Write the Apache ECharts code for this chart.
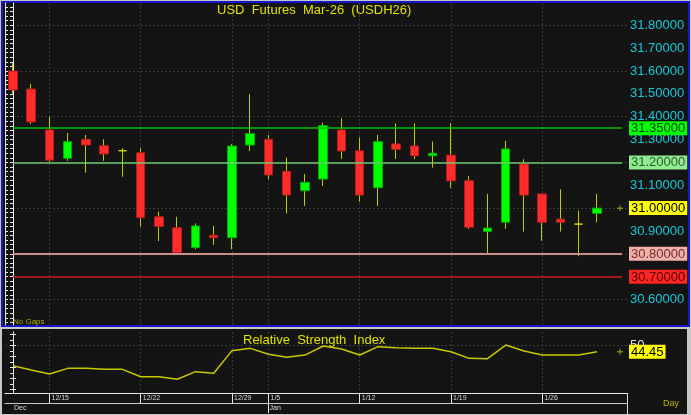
<!DOCTYPE html>
<html>
<head>
<meta charset="utf-8">
<script src="https://cdn.jsdelivr.net/npm/echarts@6/dist/echarts.min.js"></script>
<style>
html,body{margin:0;padding:0;background:#c8c8c8;width:691px;height:415px;overflow:hidden;}
.p{position:absolute;box-sizing:border-box;}
#c{position:absolute;left:0;top:0;width:691px;height:415px;}
</style>
</head>
<body>
<div class="p" style="left:1px;top:1px;width:689px;height:326px;border:2px solid #1616c8;background:#141414;"></div>
<div class="p" style="left:2px;top:329px;width:685px;height:85px;background:#141414;"></div>
<div class="p" style="left:627px;top:393px;width:1px;height:22px;background:#dcdcdc;"></div>
<div id="c"></div>
<script>
// ---- data ----
const dates = ['12/11','12/12','12/15','12/16','12/17','12/18','12/19','12/22','12/23','12/24','12/25','12/26',
  '12/29','12/30','1/5','1/6','1/7','1/8','1/9','1/12','1/13','1/14','1/15','1/16','1/19','1/20','1/21','1/22','1/23',
  '1/26','1/27','1/28','1/29'];
const opens  = [31.600,31.521,31.342,31.218,31.301,31.273,31.251,31.242,30.962,30.914,30.827,30.881,30.870,31.276,31.301,31.161,31.076,
  31.127,31.342,31.251,31.089,31.281,31.272,31.229,31.232,31.120,30.897,30.938,31.193,31.062,30.952,30.930,30.977];
const closes = [31.517,31.377,31.210,31.291,31.276,31.237,31.251,30.958,30.919,30.805,30.922,30.870,31.272,31.327,31.145,31.057,31.113,
  31.361,31.250,31.057,31.291,31.257,31.229,31.240,31.119,30.916,30.913,31.259,31.057,30.938,30.938,30.930,31.000];
const lows   = [31.500,31.368,31.202,31.207,31.155,31.207,31.137,30.919,30.856,30.799,30.820,30.839,30.820,31.250,31.127,30.977,31.009,
  31.097,31.215,31.028,31.009,31.215,31.215,31.177,31.089,30.909,30.799,30.909,30.897,30.857,30.897,30.790,30.938];
const highs  = [31.635,31.543,31.400,31.329,31.320,31.301,31.262,31.262,30.984,30.962,30.933,30.922,31.281,31.499,31.320,31.221,31.149,
  31.374,31.393,31.309,31.320,31.371,31.371,31.291,31.371,31.140,31.062,31.294,31.214,31.062,31.082,30.989,31.062];
const rsi    = [31.8,27.9,24.3,29.4,29.4,28.5,28.5,21.8,21.8,19.5,26.4,24.9,45.5,47.6,42.2,39.4,41.5,
  49.7,47.0,41.5,49.1,48.2,47.6,47.6,44.5,38.5,38.2,50.6,45.2,41.5,41.5,41.5,44.45];
const weekLabels = ['12/15','12/22','12/29','1/5','1/12','1/19','1/26'];
const monthLabels = ['Dec','Jan'];
const monthStarts = ['12/11','1/5'];
const priceTickLabels = [31.8,31.7,31.6,31.5,31.4,31.3,31.1,30.9,30.6];
const levelValues = [31.35,31.20,30.80,30.70];
const lastPrice = 31.00;
const lastRsi = 44.45;
const rsiTickLabels = [50];

// ---- styles ----
const FONT = 'Arial, "Liberation Sans", sans-serif';
const levelLine = ['#00c000','#6cc86c','#c89088','#d01818'];
const boxStyles = {
  '3135': {key:'a', bg:'#00ff00', fg:'#0a400a'},
  '3120': {key:'b', bg:'#90ec90', fg:'#2c5a2c'},
  '3100': {key:'c', bg:'#ffff00', fg:'#000000'},
  '3080': {key:'d', bg:'#f4b0a8', fg:'#6a3030'},
  '3070': {key:'e', bg:'#ff2424', fg:'#500000'}
};
const rich = {};
Object.values(boxStyles).forEach(s => {
  rich[s.key] = {backgroundColor:s.bg, color:s.fg, fontSize:13, fontFamily:FONT, padding:[1,2,0,2], lineHeight:13};
});

const xMin = -0.438, xMax = 33.644, xLineEnd = 33.37, xMark = 33.26;
const yMin = 30.4884, yMax = 31.8976;
const rMin = 7.0, rMax = 62.455;

const idx = dates.map((d,i)=>i);
const weekIdx = weekLabels.map(d => dates.indexOf(d));
const monthIdx = monthStarts.map(d => dates.indexOf(d));
const ticks02 = []; for (let k = 1525; k <= 1594; k++) ticks02.push(+(k*0.02).toFixed(2));
const ticks20 = []; for (let k = 153; k <= 159; k++) ticks20.push(+(k*0.2).toFixed(1));
const rsiMinor = [10,15,20,25,30,35,40,45,50,55,60];
const rsiMajor = [10,20,30,40,50,60];

const wickData = idx.map(i => [i, opens[i], closes[i], lows[i], highs[i]]);
const bodyData = idx.map(i => [i, opens[i], closes[i], Math.min(opens[i],closes[i]), Math.max(opens[i],closes[i])]);
const rsiData = idx.map(i => [i, rsi[i]]);

const plusPath = 'path://M0,4h9v1H0z M4,0h1v9H4z';
const white = '#e8e8e8';
const gridLine = {show:true, lineStyle:{color:'#3a3a3a', type:[2,2], width:1}};

const chart = echarts.init(document.getElementById('c'), null, {renderer:'canvas'});
chart.setOption({
  backgroundColor:'transparent',
  animation:false,
  title:[
    {text:'USD  Futures  Mar-26  (USDH26)', left:217, top:4, padding:0,
     textStyle:{color:'#e0e000', fontSize:13, fontWeight:'normal', fontFamily:FONT}},
    {text:'Relative  Strength  Index', left:243, top:334, padding:0,
     textStyle:{color:'#e0e000', fontSize:13, fontWeight:'normal', fontFamily:FONT}}
  ],
  graphic:[
    {type:'text', left:13, top:318, style:{text:'No Gaps', fill:'#b0b000', font:'8px '+FONT}},
    {type:'text', left:663, top:399, style:{text:'Day', fill:'#b8b800', font:'9px '+FONT}}
  ],
  grid:[
    {left:5, right:64, top:3, height:322},
    {left:5, right:64, top:332, height:61}
  ],
  xAxis:[
    {type:'value', gridIndex:0, min:xMin, max:xMax, axisLine:{show:false},
     axisTick:{show:false, customValues:weekIdx}, axisLabel:{show:false}, splitLine:gridLine},
    {type:'value', gridIndex:1, min:xMin, max:xMax, position:'bottom',
     axisLine:{show:true, lineStyle:{color:white, width:1}},
     axisTick:{show:true, customValues:weekIdx, length:10, inside:false, lineStyle:{color:white}},
     axisLabel:{show:true, customValues:weekIdx, formatter:v => dates[Math.round(v)], color:'#d8d8d8',
       fontSize:7, fontFamily:FONT, align:'left', margin:2, padding:[0,0,0,2]},
     splitLine:gridLine},
    {type:'value', gridIndex:1, min:xMin, max:xMax, position:'bottom', offset:10,
     axisLine:{show:true, lineStyle:{color:'#c8c8c8', width:1}},
     axisTick:{show:true, customValues:[monthIdx[1]], length:10, inside:false, lineStyle:{color:white}},
     axisLabel:{show:true, customValues:monthIdx, formatter:v => monthLabels[monthIdx.indexOf(Math.round(v))],
       color:'#d8d8d8', fontSize:7, fontFamily:FONT, align:'left', margin:2, padding:[0,0,0,1]},
     splitLine:{show:false}}
  ],
  yAxis:[
    {type:'value', gridIndex:0, position:'right', min:yMin, max:yMax,
     axisLine:{show:true, lineStyle:{color:white, width:1}},
     axisTick:{show:true, customValues:ticks02, inside:true, length:3, lineStyle:{color:white}},
     axisLabel:{show:true, customValues:priceTickLabels, formatter:v => v.toFixed(5), color:'#18c8d8',
       fontSize:13, fontFamily:FONT, margin:3},
     splitLine:{show:false}},
    {type:'value', gridIndex:0, position:'left', min:yMin, max:yMax,
     axisLine:{show:true, lineStyle:{color:white, width:1}},
     axisTick:{show:true, customValues:ticks02, inside:true, length:3, lineStyle:{color:white}},
     axisLabel:{show:false}, splitLine:{show:false}},
    {type:'value', gridIndex:0, position:'left', min:yMin, max:yMax,
     axisLine:{show:false}, axisTick:{show:false, customValues:ticks20}, axisLabel:{show:false},
     splitLine:gridLine},
    {type:'value', gridIndex:0, position:'right', min:yMin, max:yMax, z:5,
     axisLine:{show:false}, axisTick:{show:false},
     axisLabel:{show:true, customValues:levelValues.concat([lastPrice]), margin:2,
       formatter:v => { const s = boxStyles[String(Math.round(v*100))]; return '{'+s.key+'|'+v.toFixed(5)+'}'; },
       rich:rich},
     splitLine:{show:false}},
    {type:'value', gridIndex:1, position:'right', min:rMin, max:rMax,
     axisLine:{show:true, lineStyle:{color:white, width:1}},
     axisTick:{show:true, customValues:rsiMinor, inside:true, length:3, lineStyle:{color:white}},
     axisLabel:{show:true, customValues:rsiTickLabels, color:'#e0e0e0', fontSize:13, fontFamily:FONT, margin:3,
       padding:[0,0,4,0]},
     splitLine:{show:false}},
    {type:'value', gridIndex:1, position:'left', min:rMin, max:rMax,
     axisLine:{show:true, lineStyle:{color:white, width:1}},
     axisTick:{show:true, customValues:rsiMajor, inside:true, length:3, lineStyle:{color:white}},
     axisLabel:{show:false}, splitLine:{show:false}},
    {type:'value', gridIndex:1, position:'left', min:rMin, max:rMax,
     axisLine:{show:false}, axisTick:{show:false, customValues:[50]}, axisLabel:{show:false},
     splitLine:gridLine},
    {type:'value', gridIndex:1, position:'right', min:rMin, max:rMax, z:5,
     axisLine:{show:false}, axisTick:{show:false},
     axisLabel:{show:true, customValues:[lastRsi], margin:2, formatter:v => '{c|'+v.toFixed(2)+'}', rich:rich},
     splitLine:{show:false}}
  ],
  series:[
    {type:'candlestick', name:'wick', xAxisIndex:0, yAxisIndex:0, data:wickData, barWidth:1, silent:true,
     itemStyle:{color:'#c8c800', color0:'#c8c800', borderColor:'#c8c800', borderColor0:'#c8c800', borderColorDoji:'#c8c800', borderWidth:1}},
    {type:'candlestick', name:'body', xAxisIndex:0, yAxisIndex:0, data:bodyData, barWidth:9, silent:true,
     itemStyle:{color:'#00ff00', color0:'#ff2c2c', borderColor:'#00a800', borderColor0:'#b41c1c', borderColorDoji:'#d8d800', borderWidth:1},
     markLine:{silent:true, symbol:'none', label:{show:false},
       data: levelValues.map((v,k) => [{coord:[0,v], lineStyle:{color:levelLine[k], width:(k===2?2:1.5), type:'solid'}}, {coord:[xLineEnd,v]}])},
     markPoint:{silent:true, symbol:plusPath, symbolSize:6, itemStyle:{color:'#d8d800'}, label:{show:false},
       data:[{coord:[xMark, lastPrice]}]}},
    {type:'line', name:'RSI', xAxisIndex:1, yAxisIndex:4, data:rsiData, showSymbol:false, silent:true,
     lineStyle:{color:'#c8c800', width:1.5},
     markPoint:{silent:true, symbol:plusPath, symbolSize:6, itemStyle:{color:'#d8d800'}, label:{show:false},
       data:[{coord:[xMark, lastRsi]}]}}
  ]
});
</script>
</body>
</html>
